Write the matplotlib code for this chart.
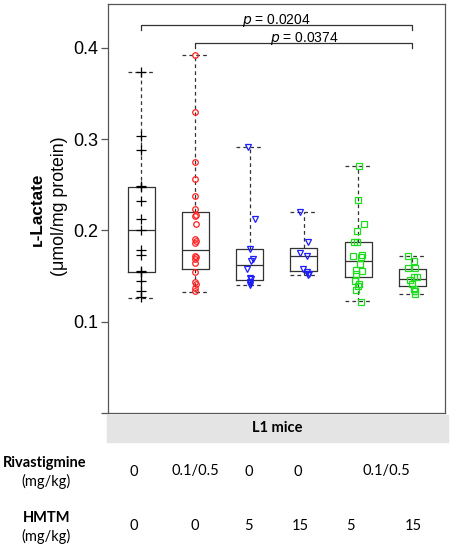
import matplotlib
matplotlib.use('Agg')
import matplotlib.pyplot as plt
from matplotlib.patches import Rectangle
import numpy as np

plt.rcParams['font.family'] = ['Liberation Sans', 'DejaVu Sans']

# individual animals
g1 = [0.373, 0.303, 0.288, 0.249, 0.248, 0.232, 0.212, 0.200, 0.179, 0.173, 0.155, 0.154, 0.145, 0.134, 0.127]
g2 = [0.392, 0.330, 0.275, 0.256, 0.238, 0.223, 0.217, 0.216, 0.207, 0.191, 0.188, 0.186,
      0.172, 0.171, 0.169, 0.164, 0.154, 0.143, 0.141, 0.137, 0.134]
g3 = [0.291, 0.212, 0.180, 0.169, 0.167, 0.158, 0.148, 0.147, 0.144, 0.142, 0.140]
g4 = [0.220, 0.187, 0.175, 0.172, 0.158, 0.154, 0.152, 0.151]
g5 = [0.271, 0.233, 0.207, 0.199, 0.187, 0.187, 0.173, 0.172, 0.171, 0.163, 0.157, 0.156,
      0.152, 0.145, 0.141, 0.139, 0.135, 0.122]
g6 = [0.172, 0.167, 0.159, 0.159, 0.149, 0.149, 0.146, 0.141, 0.136, 0.134, 0.130]

# horizontal scatter of the points (as drawn)
j1 = [0] * len(g1)
j2 = [0, 0, 0, 0, 0, 0, 0.01, -0.01, 0.02, 0, 0.01, -0.01, 0, 0.01, -0.01, 0, 0, 0, 0.01, 0, 0]
j3 = [-0.03, 0.105, 0, 0.06, 0.03, -0.04, 0, 0.02, 0.01, 0, 0]
j4 = [-0.08, 0.075, -0.065, 0.05, -0.01, 0.06, 0.09, 0.075]
j5 = [0.01, 0, 0.10, -0.02, -0.08, -0.02, 0.075, -0.10, 0.055, 0.03, -0.04, 0.075,
      -0.04, -0.06, 0.01, -0.01, -0.04, 0.055]
j6 = [-0.085, 0.035, -0.085, 0.05, 0.09, 0.02, -0.04, -0.01, 0.035, 0.05, 0.05]

# box stats: lower whisker, q1, median, q3, upper whisker
whislo = [0.126, 0.133, 0.1406, 0.1516, 0.123, 0.130]
q1 = [0.1545, 0.158, 0.146, 0.155, 0.149, 0.139]
med = [0.200, 0.179, 0.1625, 0.172, 0.167, 0.147]
q3 = [0.248, 0.220, 0.180, 0.181, 0.187, 0.158]
whishi = [0.373, 0.392, 0.291, 0.2197, 0.271, 0.172]

rivastigmine = ['0', '0.1/0.5', '0', '0', '0.1/0.5']
hmtm = ['0', '0', '5', '15', '5', '15']

groups = [g1, g2, g3, g4, g5, g6]
jitters = [j1, j2, j3, j4, j5, j6]
markers = ['+', 'o', 'v', 'v', 's', 's']
colors = ['black', '#ff2020', '#1c1cff', '#1c1cff', '#1edc1e', '#1edc1e']
msizes = [6.5, 4, 5, 5, 4.3, 4.3]

fig = plt.figure(figsize=(4.55, 5.5), dpi=100)
W, H = 455.0, 550.0
ax = fig.add_axes([108 / W, 1 - 413 / H, (445 - 108) / W, (413 - 4) / H])

stats = []
for i in range(6):
    stats.append(dict(whislo=whislo[i], q1=q1[i], med=med[i], q3=q3[i], whishi=whishi[i]))
pos = np.arange(1, 7)
ax.bxp(stats, positions=pos, widths=0.5, capwidths=0.5, showfliers=False,
       boxprops=dict(color='#333333', lw=0.9),
       whiskerprops=dict(color='#333333', lw=0.9, ls=(0, (3, 2.5))),
       capprops=dict(color='#333333', lw=0.9, ls=(0, (3, 2.5))),
       medianprops=dict(color='#333333', lw=0.9))

for i in range(6):
    xs = pos[i] + np.array(jitters[i])
    if markers[i] == '+':
        ax.plot(xs, groups[i], ls='none', marker='+', ms=msizes[i], mew=0.9, color=colors[i], zorder=3)
    else:
        ax.plot(xs, groups[i], ls='none', marker=markers[i], ms=msizes[i], mew=0.9,
                mfc='none', mec=colors[i], zorder=3)

# significance brackets
def bracket(x1, x2, y, txt):
    ax.plot([x1, x1, x2, x2], [y - 0.0052, y, y, y - 0.0052], color='#333333', lw=0.9)
    ax.text((x1 + x2) / 2, y + 0.0016, txt, ha='center', va='baseline', fontsize=10)

bracket(1, 6, 0.4245, '$\\it{p}$ = 0.0204')
bracket(2, 6, 0.405, '$\\it{p}$ = 0.0374')

ax.set_xlim(0.39, 6.6)
ax.set_ylim(0, 0.448)
ax.set_xticks([])
ax.set_yticks([0, 0.1, 0.2, 0.3, 0.4])
ax.set_yticklabels(['', '0.1', '0.2', '0.3', '0.4'])
ax.tick_params(axis='y', labelsize=13, length=5, width=0.9, color='#555555', pad=2)
for s in ax.spines.values():
    s.set_color('#555555')
    s.set_linewidth(0.9)

# y label (two lines)
fig.text(37 / W, 1 - 209 / H, '\u029f-Lactate', rotation=90, ha='center', va='center',
         fontsize=12.3, fontweight='bold')
fig.text(59 / W, 1 - 206 / H, '(\u03bcmol/mg protein)', rotation=90, ha='center', va='center',
         fontsize=12.8)

# treatment table below the plot
fig.patches.append(Rectangle((107 / W, 1 - 442 / H), (448 - 107) / W, 27 / H,
                             transform=fig.transFigure, color='#e4e4e4', zorder=0))
tfont = ['Lato', 'DejaVu Sans']
fig.text(277 / W, 1 - 428.5 / H, 'L1 mice', ha='center', va='center', fontsize=10.5,
         fontweight='bold', family=tfont)

fig.text(44.5 / W, 1 - 463 / H, 'Rivastigmine', ha='center', va='center', fontsize=10.5,
         fontweight='bold', family=tfont)
fig.text(45.5 / W, 1 - 481.5 / H, '(mg/kg)', ha='center', va='center', fontsize=10.5, family=tfont)
fig.text(46.7 / W, 1 - 518 / H, 'HMTM', ha='center', va='center', fontsize=10.5,
         fontweight='bold', family=tfont)
fig.text(45.5 / W, 1 - 536.5 / H, '(mg/kg)', ha='center', va='center', fontsize=10.5, family=tfont)

riv_x = [133.3, 195, 248.3, 297.7, 386.7]
hm_x = [133.3, 195, 248.3, 300, 350, 413.3]
for x, t in zip(riv_x, rivastigmine):
    fig.text(x / W, 1 - 471.5 / H, t, ha='center', va='center', fontsize=10.5, family=tfont)
for x, t in zip(hm_x, hmtm):
    fig.text(x / W, 1 - 526 / H, t, ha='center', va='center', fontsize=10.5, family=tfont)

fig.savefig('out.png', dpi=100)
